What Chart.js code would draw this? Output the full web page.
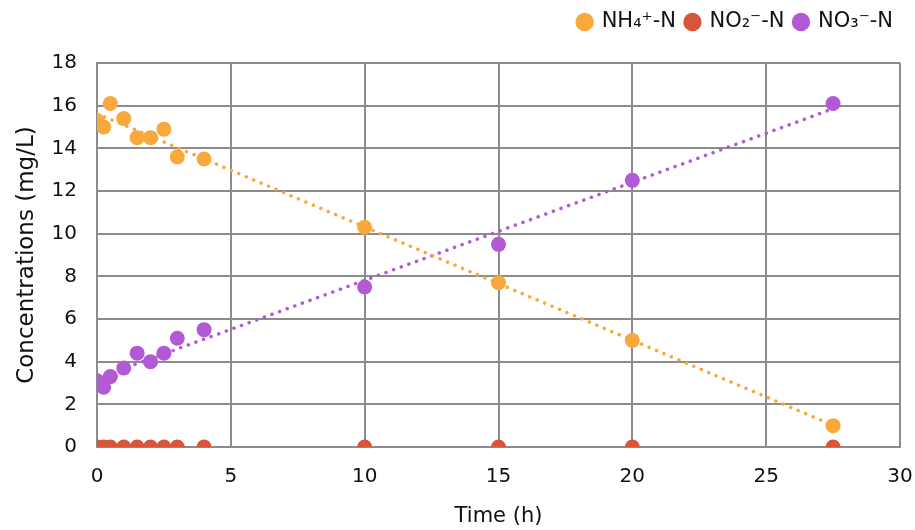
<!DOCTYPE html>
<html>
<head>
<meta charset="utf-8">
<script src="https://cdn.jsdelivr.net/npm/chart.js@4"></script>
<style>
  html, body { margin: 0; padding: 0; background: #fff; }
  #wrap { width: 915px; height: 530px; position: relative; }
</style>
</head>
<body>
<div id="wrap"><canvas id="chart"></canvas></div>
<script>
// sampling times (h)
const timeH = [0, 0.25, 0.5, 1, 1.5, 2, 2.5, 3, 4, 10, 15, 20, 27.5];

// concentrations (mg/L)
const nh4 = [15.3, 15.0, 16.1, 15.4, 14.5, 14.5, 14.9, 13.6, 13.5, 10.3, 7.7, 5.0, 1.0];
const no2 = [0, 0, 0, 0, 0, 0, 0, 0, 0, 0, 0, 0, 0];
const no3 = [3.1, 2.8, 3.3, 3.7, 4.4, 4.0, 4.4, 5.1, 5.5, 7.5, 9.5, 12.5, 16.1];

const seriesNames = ['NH\u2084\u207A-N', 'NO\u2082\u207B-N', 'NO\u2083\u207B-N'];
const colors = ['#F9A93B', '#D9553A', '#B259D6'];

const xTicks = [0, 5, 10, 15, 20, 25, 30];
const yTicks = [0, 2, 4, 6, 8, 10, 12, 14, 16, 18];

const FONT = "'DejaVu Sans', sans-serif";

function toPoints(ys) {
    return timeH.map((t, i) => ({ x: t, y: ys[i] }));
}

// linear least squares trendline, like the spreadsheet's
function trend(ys) {
    const n = timeH.length;
    const mx = timeH.reduce((a, b) => a + b, 0) / n;
    const my = ys.reduce((a, b) => a + b, 0) / n;
    let sxy = 0, sxx = 0;
    timeH.forEach((t, i) => {
        sxy += (t - mx) * (ys[i] - my);
        sxx += (t - mx) * (t - mx);
    });
    const b = sxy / sxx;
    const a = my - b * mx;
    const x0 = timeH[0], x1 = timeH[n - 1];
    return [{ x: x0, y: a + b * x0 }, { x: x1, y: a + b * x1 }];
}

function scatterSet(label, ys, color) {
    return {
        type: 'scatter',
        label: label,
        data: toPoints(ys),
        backgroundColor: color,
        borderColor: color,
        pointRadius: 7.5,
        pointHoverRadius: 7.5,
        borderWidth: 0,
        order: 1,
    };
}

function trendSet(ys, color) {
    return {
        type: 'line',
        label: 'trend',
        data: trend(ys),
        borderColor: color,
        borderWidth: 3.5,
        borderDash: [0.1, 8],
        borderCapStyle: 'round',
        pointRadius: 0,
        fill: false,
        order: 2,
    };
}

// lift the legend into the top strip and pull it in from the right edge
const legendLift = {
    id: 'legendLift',
    afterLayout: (chart) => {
        const lg = chart.legend;
        if (!lg) return;
        const d = (lg.top + lg.bottom) / 2 - 22;
        lg.top -= d;
        lg.bottom -= d;
        lg.right -= 12;
    },
};

const ctx = document.getElementById('chart').getContext('2d');
new Chart(ctx, {
    data: {
        datasets: [
            scatterSet(seriesNames[0], nh4, colors[0]),
            scatterSet(seriesNames[1], no2, colors[1]),
            scatterSet(seriesNames[2], no3, colors[2]),
            trendSet(nh4, colors[0]),
            trendSet(no3, colors[2]),
        ],
    },
    options: {
        responsive: true,
        maintainAspectRatio: false,
        animation: false,
        layout: { padding: { left: 0, right: 0, top: 22, bottom: 0 } },
        plugins: {
            tooltip: { enabled: false },
            legend: {
                position: 'top',
                align: 'end',
                labels: {
                    filter: (item) => item.text !== 'trend',
                    usePointStyle: true,
                    pointStyle: 'circle',
                    boxWidth: 13,
                    boxHeight: 13,
                    padding: 10,
                    color: '#111',
                    font: { family: FONT, size: 21 },
                },
            },
        },
        scales: {
            x: {
                type: 'linear',
                min: 0,
                max: 30,
                afterBuildTicks: (axis) => { axis.ticks = xTicks.map(v => ({ value: v })); },
                afterFit: (axis) => {
                    axis.height = 83;
                    axis.paddingRight = 15;
                },
                grid: { color: '#8c8c8c', lineWidth: 2, drawTicks: false },
                border: { color: '#8c8c8c', width: 2 },
                ticks: { color: '#111', padding: 18, font: { family: FONT, size: 20 } },
                title: {
                    display: true,
                    text: 'Time (h)',
                    color: '#111',
                    padding: { top: 4, bottom: 1 },
                    font: { family: FONT, size: 21 },
                },
            },
            y: {
                min: 0,
                max: 18,
                afterBuildTicks: (axis) => { axis.ticks = yTicks.map(v => ({ value: v })); },
                afterFit: (axis) => { axis.width = 97; },
                grid: { color: '#8c8c8c', lineWidth: 2, drawTicks: false },
                border: { color: '#8c8c8c', width: 2 },
                ticks: { color: '#111', padding: 20, font: { family: FONT, size: 20 } },
                title: {
                    display: true,
                    text: 'Concentrations (mg/L)',
                    color: '#111',
                    padding: { top: 13, bottom: 0 },
                    font: { family: FONT, size: 23 },
                },
            },
        },
    },
    plugins: [legendLift],
});
</script>
</body>
</html>
